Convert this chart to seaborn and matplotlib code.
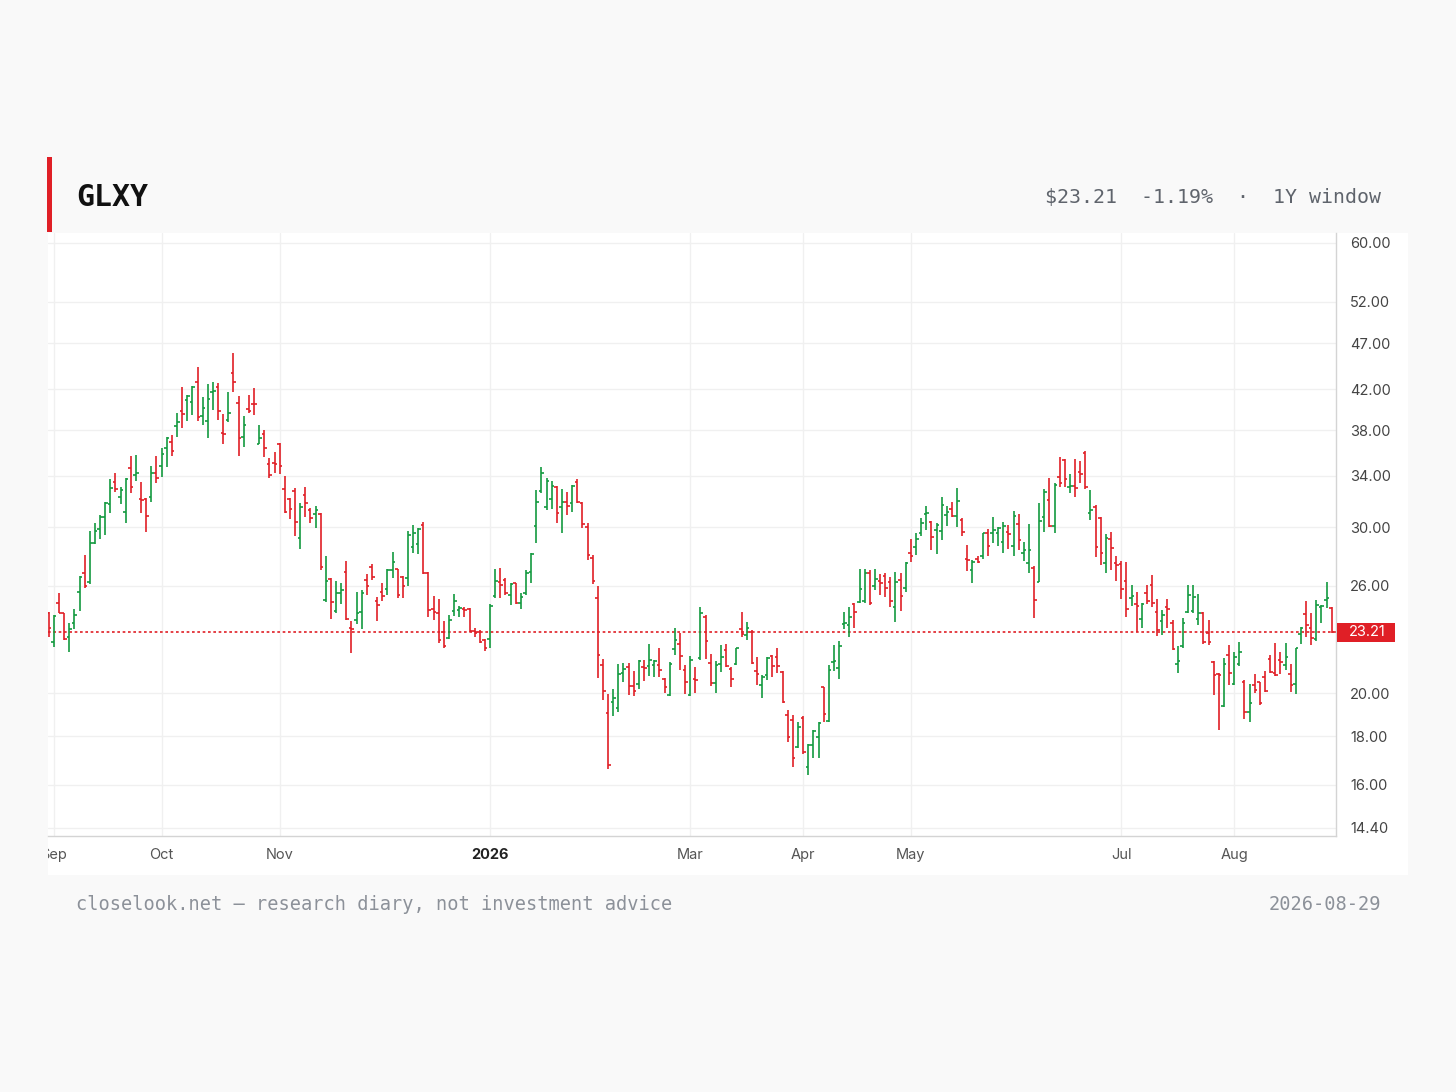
import matplotlib
matplotlib.use("Agg")
import numpy as np
import pandas as pd
import matplotlib.pyplot as plt
import seaborn as sns
from matplotlib.patches import Rectangle
from matplotlib.ticker import FixedLocator, NullLocator, FuncFormatter
from matplotlib.transforms import Bbox, TransformedBbox, IdentityTransform, blended_transform_factory

# --- data (daily OHLC, one bar per trading day) ---
symbol = "GLXY"
header_price = "$23.21"
header_change = "-1.19%"
header_window = "1Y window"
footer_left = "closelook.net — research diary, not investment advice"
footer_right = "2026-08-29"

opens = [
    24.35, 22.68, 24.91, 24.35, 22.96, 23.73, 25.59, 26.80, 26.26, 28.88,
    29.84, 30.77, 31.71, 33.46, 32.26, 31.15, 34.68, 34.06, 32.10, 32.10,
    32.26, 34.20, 34.82, 36.38, 36.89, 38.36, 39.85, 40.95, 40.75, 42.77,
    39.29, 38.83, 41.74, 42.25, 37.70, 38.96, 43.72, 40.65, 37.40, 39.97,
    40.55, 36.74, 37.66, 34.97, 35.05, 36.74, 32.92, 32.13, 32.76, 29.19,
    32.43, 31.28, 30.95, 30.98, 25.11, 26.41, 24.46, 25.53, 26.91, 23.44,
    23.92, 24.37, 26.37, 27.24, 25.05, 25.59, 25.79, 27.02, 27.06, 26.59,
    26.48, 28.60, 28.77, 30.15, 26.79, 24.55, 24.31, 23.25, 22.87, 24.46,
    24.51, 24.59, 24.55, 23.30, 23.25, 22.78, 22.83, 25.36, 26.26, 26.37,
    25.42, 26.15, 24.91, 25.56, 26.91, 30.08, 32.79, 31.54, 32.10, 33.11,
    31.54, 31.92, 31.79, 33.51, 31.80, 30.00, 27.80, 25.22, 21.45, 19.04,
    19.60, 19.31, 21.00, 21.31, 20.36, 20.46, 21.31, 21.38, 21.42, 21.44,
    20.69, 19.93, 22.27, 22.54, 21.17, 19.93, 20.71, 21.78, 24.10, 21.53,
    20.50, 21.46, 22.23, 21.23, 21.49, 23.40, 23.05, 23.25, 21.12, 20.41,
    20.91, 21.93, 21.87, 21.06, 18.95, 18.74, 17.56, 18.83, 16.69, 17.62,
    17.96, 20.30, 18.71, 21.58, 21.26, 23.68, 23.62, 24.85, 24.97, 25.05,
    26.81, 25.99, 26.32, 26.63, 26.26, 24.67, 26.37, 25.84, 28.18, 28.55,
    29.54, 30.95, 30.39, 29.79, 29.71, 30.90, 31.33, 30.83, 30.52, 27.78,
    27.02, 27.76, 27.95, 29.59, 29.54, 29.54, 28.95, 29.62, 28.68, 30.20,
    28.18, 27.50, 27.17, 26.26, 30.77, 32.05, 30.10, 33.87, 35.33, 33.06,
    33.19, 34.33, 35.92, 31.03, 31.54, 30.64, 27.50, 29.12, 27.50, 27.41,
    26.32, 25.25, 24.85, 23.97, 25.53, 26.04, 24.37, 23.86, 24.70, 23.73,
    21.49, 22.42, 24.37, 24.45, 23.97, 24.31, 23.19, 21.58, 20.96, 19.38,
    21.96, 20.44, 21.49, 20.55, 19.09, 20.41, 20.55, 20.81, 21.75, 21.00,
    21.69, 21.44, 20.94, 20.44, 23.09, 24.24, 23.44, 22.83, 24.67, 25.11,
    24.60,
]
highs = [
    24.41, 24.21, 25.53, 24.35, 23.76, 24.55, 26.63, 28.01, 29.71, 30.27,
    30.90, 31.92, 33.71, 34.20, 33.11, 33.79, 35.68, 35.77, 33.51, 32.18,
    34.82, 35.71, 36.41, 37.40, 37.55, 39.65, 42.19, 41.38, 42.33, 44.37,
    41.21, 42.53, 42.70, 42.61, 39.53, 41.68, 45.92, 41.28, 39.38, 41.38,
    42.15, 38.49, 38.01, 35.48, 35.99, 36.86, 33.98, 32.18, 32.98, 31.79,
    33.06, 31.41, 31.59, 31.03, 27.96, 26.48, 26.30, 26.15, 27.62, 23.86,
    25.59, 25.73, 26.74, 27.41, 25.31, 26.15, 27.09, 28.23, 27.09, 26.63,
    29.71, 30.15, 29.95, 30.34, 26.91, 25.36, 25.17, 23.86, 24.21, 25.46,
    24.76, 24.67, 24.63, 23.44, 23.34, 22.83, 24.87, 27.06, 27.13, 26.48,
    26.15, 26.19, 25.56, 27.02, 28.18, 32.84, 34.76, 33.79, 33.59, 33.17,
    32.89, 32.70, 33.25, 33.71, 31.90, 30.30, 28.00, 25.99, 21.75, 19.95,
    20.21, 21.49, 21.55, 21.55, 21.10, 21.69, 21.69, 22.54, 21.69, 22.36,
    20.76, 21.58, 23.48, 23.19, 21.42, 21.91, 21.30, 24.67, 24.21, 22.00,
    21.64, 22.50, 22.56, 21.30, 22.32, 24.41, 23.82, 23.34, 21.84, 20.91,
    21.87, 21.96, 22.31, 21.10, 19.20, 18.99, 18.63, 18.90, 17.69, 18.29,
    18.66, 20.33, 21.44, 22.50, 22.72, 24.41, 24.70, 24.95, 27.09, 27.09,
    27.02, 27.06, 26.74, 26.81, 26.59, 26.91, 26.81, 27.57, 29.12, 29.59,
    30.64, 31.59, 30.47, 30.27, 32.31, 31.59, 31.87, 32.98, 30.64, 28.72,
    27.71, 27.96, 29.59, 29.84, 30.77, 30.03, 30.39, 30.15, 31.20, 30.95,
    28.95, 30.20, 27.28, 31.79, 32.89, 33.79, 33.39, 35.57, 35.43, 34.12,
    35.40, 35.26, 36.12, 32.84, 31.66, 30.77, 29.47, 29.62, 27.96, 27.62,
    27.53, 26.04, 25.62, 24.95, 26.04, 26.67, 25.15, 24.51, 25.17, 23.92,
    22.45, 24.03, 26.04, 26.04, 25.46, 24.41, 23.92, 21.64, 21.00, 21.78,
    22.50, 22.11, 22.65, 20.66, 20.44, 20.94, 20.58, 21.10, 21.96, 22.59,
    22.14, 22.59, 21.49, 22.36, 23.52, 25.05, 24.31, 25.11, 24.80, 26.21,
    24.70,
]
lows = [
    22.96, 22.38, 24.31, 22.78, 22.11, 23.40, 24.46, 25.84, 26.10, 28.77,
    29.14, 29.40, 31.07, 32.70, 31.71, 30.27, 32.58, 33.59, 31.03, 29.66,
    31.92, 33.44, 33.91, 34.76, 35.71, 37.40, 38.24, 38.83, 39.44, 38.83,
    38.49, 37.31, 39.92, 38.95, 36.71, 38.80, 41.68, 35.71, 36.48, 39.59,
    39.44, 36.71, 35.62, 33.79, 34.20, 34.12, 31.03, 30.57, 29.37, 28.46,
    30.77, 30.31, 29.91, 27.02, 25.01, 23.97, 24.35, 24.87, 23.92, 22.06,
    23.68, 23.40, 25.42, 26.37, 23.86, 25.05, 25.42, 26.52, 25.25, 25.25,
    26.00, 28.13, 28.06, 26.74, 24.10, 23.92, 22.59, 22.33, 22.83, 24.17,
    24.10, 24.10, 23.25, 22.96, 22.59, 22.18, 22.36, 25.21, 25.21, 25.42,
    24.80, 24.87, 24.59, 25.42, 26.19, 28.84, 32.62, 31.28, 31.33, 30.27,
    29.59, 30.90, 31.12, 31.79, 29.90, 27.70, 26.10, 20.78, 19.68, 16.62,
    18.90, 19.11, 20.58, 19.93, 19.88, 20.19, 20.62, 20.86, 20.81, 20.81,
    20.00, 19.89, 21.96, 21.17, 19.98, 19.85, 20.00, 21.69, 21.75, 20.36,
    20.00, 21.06, 21.30, 20.33, 21.44, 22.96, 22.78, 21.49, 20.41, 19.76,
    20.66, 20.81, 21.04, 19.52, 17.76, 16.72, 17.49, 17.24, 16.38, 17.10,
    17.10, 18.63, 18.66, 21.13, 20.73, 23.38, 22.96, 23.44, 24.91, 24.91,
    24.80, 25.73, 25.42, 25.31, 24.67, 23.82, 24.45, 25.62, 27.57, 28.02,
    29.34, 29.79, 28.39, 28.06, 29.07, 30.08, 30.72, 30.03, 29.34, 26.97,
    26.15, 27.50, 27.78, 27.95, 28.84, 28.66, 28.18, 28.41, 27.95, 28.36,
    27.64, 26.84, 24.03, 26.21, 29.66, 30.03, 29.54, 33.11, 33.11, 32.58,
    32.31, 33.39, 32.89, 30.52, 27.91, 27.35, 26.80, 27.02, 26.30, 25.17,
    24.07, 24.76, 23.25, 23.44, 24.85, 24.70, 23.00, 23.05, 23.48, 22.23,
    21.00, 22.36, 24.31, 24.31, 23.62, 22.54, 22.50, 19.93, 18.29, 19.35,
    20.41, 20.41, 21.38, 18.79, 18.63, 20.00, 19.43, 20.08, 21.00, 20.88,
    20.94, 21.17, 20.08, 19.97, 22.54, 22.96, 22.50, 22.72, 23.73, 24.63,
    23.15,
]
closes = [
    23.44, 24.17, 24.35, 22.83, 23.40, 24.21, 26.59, 26.00, 28.84, 29.73,
    30.72, 31.79, 32.98, 32.89, 32.84, 33.71, 33.11, 34.25, 32.05, 30.83,
    34.25, 33.83, 35.83, 37.31, 36.12, 38.79, 39.53, 41.32, 42.19, 39.22,
    40.08, 41.04, 41.81, 39.85, 37.64, 39.65, 42.77, 37.31, 38.49, 39.85,
    40.49, 37.25, 36.38, 34.06, 34.99, 34.85, 31.15, 31.33, 30.34, 31.48,
    31.79, 30.69, 31.28, 27.24, 26.30, 25.01, 25.56, 25.73, 23.97, 23.38,
    24.31, 25.53, 26.00, 26.59, 24.80, 25.38, 27.02, 27.53, 25.42, 26.00,
    29.42, 29.54, 29.87, 26.79, 24.51, 24.41, 22.78, 22.47, 23.92, 25.05,
    24.63, 24.51, 23.29, 23.19, 22.68, 22.33, 24.76, 26.30, 26.04, 25.53,
    26.10, 24.95, 25.31, 26.80, 28.06, 31.92, 34.25, 33.59, 33.17, 31.03,
    31.92, 31.59, 33.17, 31.92, 30.20, 28.00, 26.30, 21.96, 20.13, 16.79,
    19.76, 20.96, 21.21, 20.36, 20.13, 21.64, 21.26, 21.69, 21.64, 21.17,
    20.30, 21.49, 22.78, 21.91, 20.55, 21.69, 20.64, 24.31, 22.72, 20.50,
    21.44, 21.84, 21.38, 20.69, 22.31, 23.09, 23.48, 21.53, 20.96, 20.81,
    21.82, 21.36, 21.36, 19.60, 17.99, 17.10, 18.43, 17.31, 17.62, 18.26,
    18.62, 19.00, 21.17, 21.64, 22.47, 23.76, 24.07, 24.41, 25.79, 26.81,
    24.91, 26.41, 26.19, 25.84, 25.07, 26.26, 25.38, 27.46, 27.95, 29.14,
    30.27, 31.07, 29.29, 30.15, 31.66, 31.15, 30.83, 31.99, 29.62, 27.71,
    27.57, 27.58, 29.54, 28.68, 29.79, 29.91, 30.08, 29.47, 30.83, 29.07,
    28.39, 28.37, 25.11, 30.45, 32.65, 30.10, 33.25, 33.39, 33.71, 33.19,
    33.03, 34.12, 33.11, 31.28, 28.60, 28.13, 29.23, 28.53, 27.35, 25.79,
    24.59, 25.38, 24.74, 24.85, 25.05, 24.91, 23.34, 24.21, 24.59, 22.27,
    21.64, 23.73, 25.42, 25.30, 24.31, 22.68, 22.68, 20.91, 20.91, 21.49,
    21.00, 21.87, 22.11, 19.09, 19.52, 20.18, 19.52, 20.13, 21.06, 20.91,
    21.58, 21.87, 20.41, 22.33, 23.46, 23.62, 22.87, 24.80, 24.72, 25.25,
    23.21,
]

# first trading day of each month, as bar number
month_pos = [1, 22, 45, 86, 125, 147, 168, 209, 231]
month_labels = ["Sep", "Oct", "Nov", "2026", "Mar", "Apr", "May", "Jul", "Aug"]
price_ticks = [14.40, 16.00, 18.00, 20.00, 26.00, 30.00, 34.00, 38.00, 42.00, 47.00, 52.00, 60.00]

UP = "#139a3f"
DOWN = "#e01f26"
PAGE = "#f9f9f9"
W, H = 1456, 1092


def fx(x):
    return x / W


def fy(y):
    return 1 - y / H


df = pd.DataFrame({"open": opens, "high": highs, "low": lows, "close": closes})
df["bar"] = np.arange(len(df))
df["color"] = np.where(df["close"] >= df["open"], UP, DOWN)

sns.set_theme(style="white")
plt.rcParams["font.family"] = ["Inter", "DejaVu Sans"]

fig = plt.figure(figsize=(W / 100, H / 100), dpi=100, facecolor=PAGE)

# white chart panel
fig.add_artist(Rectangle((fx(48), fy(875)), fx(1408) - fx(48), fy(233) - fy(875),
                         transform=fig.transFigure, facecolor="white", edgecolor="none", zorder=-5))
# red accent bar next to the symbol
fig.add_artist(Rectangle((fx(47), fy(232)), fx(5), fy(157) - fy(232),
                         transform=fig.transFigure, facecolor=DOWN, edgecolor="none"))

ax = fig.add_axes([fx(48), fy(836), fx(1336) - fx(48), fy(233) - fy(836)])
ax.set_facecolor("white")

# OHLC bars: high-low stem, open tick left, close tick right
lw = 1.2
ax.vlines(df["bar"], df["low"], df["high"], colors=df["color"], lw=lw, zorder=3)
ax.hlines(df["open"], df["bar"] - 0.5, df["bar"], colors=df["color"], lw=lw, zorder=3)
ax.hlines(df["close"], df["bar"], df["bar"] + 0.5, colors=df["color"], lw=lw, zorder=3)

last_close = closes[-1]
ax.axhline(last_close, color=DOWN, lw=1.2, ls=(0, (1.6, 1.6)), zorder=2)

ax.set_yscale("log")
ax.set_ylim(14.12, 61.47)
ax.set_xlim(-0.14, 250.84)

ax.yaxis.set_major_locator(FixedLocator(price_ticks))
ax.yaxis.set_minor_locator(NullLocator())
ax.yaxis.set_major_formatter(FuncFormatter(lambda v, p: f"{v:.2f}"))
ax.yaxis.tick_right()
ax.tick_params(axis="y", length=0, pad=10, labelsize=10.5, labelcolor="#444444")

ax.xaxis.set_major_locator(FixedLocator(month_pos))
ax.xaxis.set_minor_locator(NullLocator())
ax.tick_params(axis="x", length=0, labelbottom=False)

ax.grid(True, color="#f0f0f0", lw=1.0, zorder=0)
for side in ["top", "left"]:
    ax.spines[side].set_visible(False)
for side in ["right", "bottom"]:
    ax.spines[side].set_color("#d4d4d4")
    ax.spines[side].set_linewidth(1.0)

# month labels, clipped at the left edge of the chart like the original
clip = TransformedBbox(Bbox.from_extents(48, 0, W, H), IdentityTransform())
xtrans = blended_transform_factory(ax.transData, fig.transFigure)
for pos, lab in zip(month_pos, month_labels):
    t = ax.text(pos, fy(855), lab, transform=xtrans, ha="center", va="center",
                fontsize=10.5, color="#222" if lab == "2026" else "#555",
                fontweight="bold" if lab == "2026" else "normal")
    t.set_clip_path(None)
    t.set_clip_box(clip)
    t.set_clip_on(True)

# last price tag on the price scale
y_pix = ax.transData.transform((0, last_close))[1]
fig.add_artist(Rectangle((1337, y_pix - 9.5), 58, 19, transform=IdentityTransform(),
                         facecolor=DOWN, edgecolor="none", zorder=5))
fig.text(fx(1349), y_pix / H, f"{last_close:.2f}", ha="left", va="center",
         fontsize=10.5, color="white", zorder=6)

mono = ["DejaVu Sans Mono"]
fig.text(fx(76), fy(197), symbol, family=mono, fontsize=21.5, fontweight="bold",
         color="#111", ha="left", va="center")
fig.text(fx(1381), fy(197), "\\" + header_price + "  " + header_change + "  ·  " + header_window,
         family=mono, fontsize=14.3, color="#5f646c", ha="right", va="center")
fig.text(fx(76), fy(904), footer_left, family=mono, fontsize=13.4, color="#8c9199",
         ha="left", va="center")
fig.text(fx(1381), fy(904), footer_right, family=mono, fontsize=13.4, color="#8c9199",
         ha="right", va="center")

fig.savefig("out.png", dpi=100, facecolor=PAGE)
